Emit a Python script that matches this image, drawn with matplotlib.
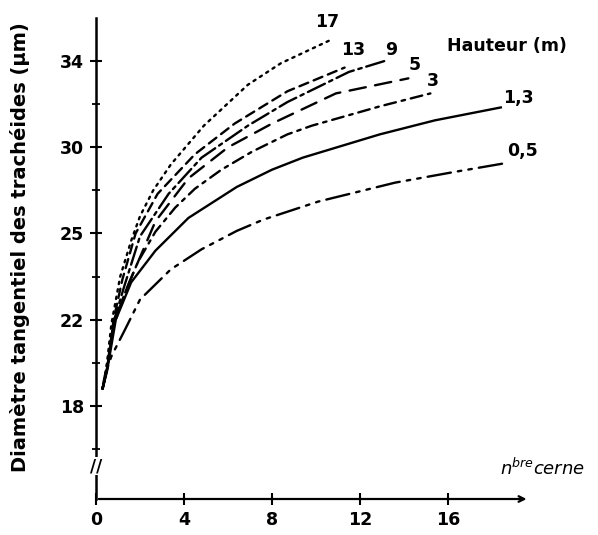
import numpy as np
import matplotlib
matplotlib.use("Agg")
from matplotlib import pyplot as plt

# Données (x = numéro de cerne, y = diamètre en µm)
x_17 = [0.3, 0.5, 0.7, 1.1, 1.6, 2.0, 2.6, 3.4, 4.9, 6.9, 8.4, 10.7]
y_17 = [18.8, 20.0, 21.8, 23.5, 24.75, 26.0, 27.5, 29.0, 31.0, 32.9, 33.9, 35.0]

x_13 = [0.3, 0.5, 0.8, 1.2, 1.8, 2.8, 4.5, 6.3, 8.7, 11.3]
y_13 = [18.8, 19.7, 22.0, 23.4, 25.0, 27.3, 29.6, 31.1, 32.6, 33.7]

x_9 = [0.3, 0.5, 0.8, 1.3, 2.0, 3.3, 4.8, 6.9, 8.7, 11.5, 13.1]
y_9 = [18.8, 19.7, 21.9, 23.2, 24.9, 27.3, 29.4, 31.0, 32.1, 33.5, 34.0]

x_5 = [0.3, 0.5, 0.8, 1.4, 2.7, 4.2, 6.0, 8.0, 10.9, 14.2]
y_5 = [18.8, 19.7, 21.8, 23.1, 25.7, 28.2, 30.0, 31.1, 32.5, 33.2]

x_3 = [0.3, 0.5, 0.8, 1.3, 1.9, 2.7, 3.6, 4.5, 5.7, 7.1, 8.7, 9.8, 12.9, 15.2]
y_3 = [18.8, 19.7, 21.7, 22.9, 24.0, 25.1, 26.5, 27.6, 28.7, 29.75, 30.6, 31.0, 31.9, 32.5]

x_13m = [0.3, 0.5, 0.9, 1.6, 2.7, 4.2, 6.4, 8.0, 9.4, 12.9, 15.4, 18.4]
y_13m = [18.8, 19.6, 22.0, 23.3, 24.4, 25.9, 27.7, 28.7, 29.4, 30.6, 31.25, 31.85]

x_05 = [0.3, 0.4, 0.7, 1.3, 2.0, 2.6, 3.4, 4.8, 6.4, 7.6, 10.1, 13.6, 16.2, 18.7]
y_05 = [18.8, 19.4, 20.3, 21.5, 22.7, 23.15, 23.75, 24.45, 25.15, 25.8, 26.85, 27.95, 28.55, 29.1]

labels = ["17", "13", "9", "5", "3", "1,3", "0,5"]
xticks = [0, 4, 8, 12, 16]
yticks = [18, 22, 25, 30, 34]
yminor = [16, 20, 23.5, 27.5, 32]

# échelle non linéaire de l'axe des y (graduations équidistantes)
knots_v = [10, 18, 22, 25, 30, 34, 42]
knots_p = [-2, 0, 1, 2, 3, 4, 6]
def fwd(v):
    return np.interp(v, knots_v, knots_p)
def inv(p):
    return np.interp(p, knots_p, knots_v)

plt.rcParams['font.family'] = ['DejaVu Sans']

fig = plt.figure(figsize=(5.98, 5.35), dpi=100)
ax = fig.add_axes([96/598, 1-499/535, 502/598, 499/535])
ax.set_yscale('function', functions=(fwd, inv))

styles = [(0, (1, 2.2)), (0, (4, 2.5)), (0, (8, 2, 1.5, 2)), (0, (7, 4)),
          (0, (5, 2.5, 1.5, 2.5)), '-', (0, (10, 3, 1.5, 3, 1.5, 3))]
series = [(x_17, y_17), (x_13, y_13), (x_9, y_9), (x_5, y_5),
          (x_3, y_3), (x_13m, y_13m), (x_05, y_05)]
for (xs, ys), ls in zip(series, styles):
    ax.plot(xs, ys, color='black', lw=1.7, linestyle=ls, dash_capstyle='round')

# étiquettes des courbes
lab_pos = [(10.5, 35.8), (11.7, 34.5), (13.4, 34.5), (14.5, 33.8),
           (15.3, 33.1), (19.2, 32.3), (19.4, 29.8)]
for (lx, ly), t in zip(lab_pos, labels):
    ax.text(lx, ly, t, ha='center', va='center', fontsize=12.5, fontweight='bold')
ax.text(18.7, 34.7, 'Hauteur (m)', ha='center', va='center', fontsize=12.5, fontweight='bold')

ax.set_xlim(0, 502/22)
ax.set_ylim(inv(-93/86), inv(405/86))

for s in ['top', 'right', 'bottom']:
    ax.spines[s].set_visible(False)
ax.spines['left'].set_linewidth(1.8)
ax.spines['left'].set_bounds(inv(-93/86), 36.0)

ax.set_xticks(xticks)
ax.set_yticks(yticks)
ax.set_yticks(yminor, minor=True)
ax.set_yticklabels([str(v) for v in yticks], fontsize=12.5, fontweight='bold')
ax.set_xticklabels([str(v) for v in xticks], fontsize=12.5, fontweight='bold')
ax.tick_params(axis='both', which='major', direction='inout', length=9, width=1.5, pad=4)
ax.tick_params(axis='y', which='minor', direction='inout', length=6, width=1.3)

y0 = inv(-93/86)
ax.annotate('', xy=(19.7, y0), xytext=(0, y0), xycoords='data',
            arrowprops=dict(arrowstyle='->', lw=1.6, color='black'),
            annotation_clip=False)

# coupure de l'axe
ax.text(0, 15.2, '//', ha='center', va='center', fontsize=12, fontweight='bold',
        bbox=dict(facecolor='white', edgecolor='none', pad=0), clip_on=False)

ax.text(20.3, 15.1, 'n$^{bre}$cerne', ha='center', va='center', fontsize=13,
        fontstyle='italic', fontweight='light')

fig.text(20/598, 1-247/535, 'Diamètre tangentiel des trachéides (µm)', rotation=90,
         ha='center', va='center', fontsize=14, fontweight='bold')

fig.savefig('out.png', dpi=100)
